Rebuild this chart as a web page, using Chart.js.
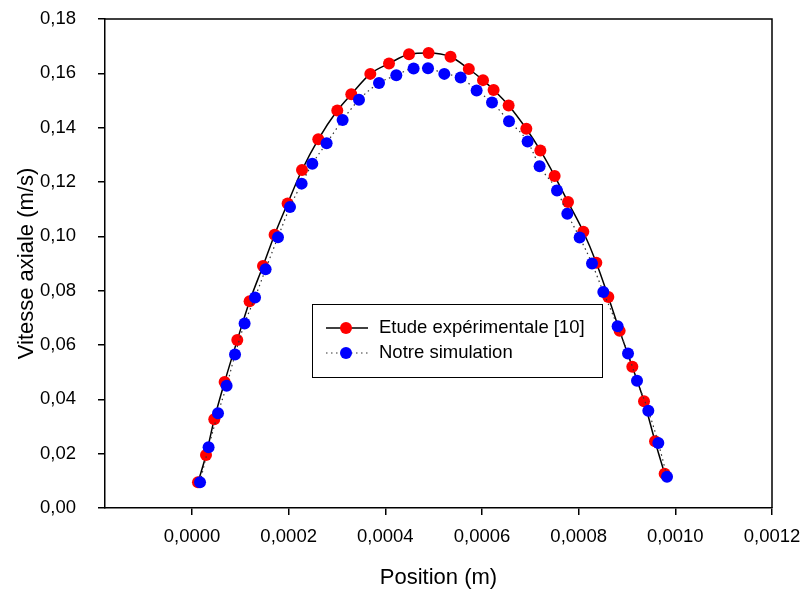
<!DOCTYPE html>
<html><head><meta charset="utf-8">
<script src="https://cdn.jsdelivr.net/npm/chart.js@4/dist/chart.umd.min.js"></script>
<style>html,body{margin:0;padding:0;background:#fff}#wrap{width:803px;height:589px}</style>
</head><body><div id="wrap"><canvas id="c" width="803" height="589"></canvas></div>
<script>
const FONT = "'Liberation Sans', Arial, sans-serif";

const expLabel = 'Etude expérimentale [10]';
const simLabel = 'Notre simulation';

const expX = [0.0000124, 0.0000290, 0.0000461, 0.0000675, 0.0000937, 0.0001192, 0.0001469, 0.0001709, 0.0001978, 0.0002276, 0.0002613, 0.0003006, 0.0003296, 0.0003689, 0.0004076, 0.0004490, 0.0004895, 0.0005349, 0.0005727, 0.0006021, 0.0006240, 0.0006551, 0.0006917, 0.0007207, 0.0007503, 0.0007780, 0.0008096, 0.0008365, 0.0008614, 0.0008848, 0.0009110, 0.0009352, 0.0009580, 0.0009779];
const expY = [0.0095, 0.0195, 0.0327, 0.0464, 0.0618, 0.0761, 0.0891, 0.1006, 0.1121, 0.1244, 0.1357, 0.1463, 0.1523, 0.1598, 0.1636, 0.1670, 0.1675, 0.1661, 0.1616, 0.1575, 0.1539, 0.1482, 0.1396, 0.1316, 0.1222, 0.1126, 0.1017, 0.0903, 0.0777, 0.0652, 0.0520, 0.0393, 0.0246, 0.0126];

const simX = [0.0000166, 0.0000343, 0.0000538, 0.0000716, 0.0000890, 0.0001088, 0.0001304, 0.0001523, 0.0001779, 0.0002028, 0.0002268, 0.0002489, 0.0002785, 0.0003116, 0.0003455, 0.0003869, 0.0004227, 0.0004585, 0.0004883, 0.0005220, 0.0005558, 0.0005889, 0.0006207, 0.0006559, 0.0006944, 0.0007192, 0.0007552, 0.0007765, 0.0008020, 0.0008276, 0.0008510, 0.0008806, 0.0009021, 0.0009207, 0.0009441, 0.0009648, 0.0009828];
const simY = [0.0095, 0.0224, 0.0349, 0.0450, 0.0565, 0.0679, 0.0775, 0.0879, 0.0997, 0.1108, 0.1194, 0.1267, 0.1343, 0.1428, 0.1503, 0.1564, 0.1593, 0.1618, 0.1619, 0.1598, 0.1585, 0.1537, 0.1493, 0.1424, 0.1349, 0.1258, 0.1169, 0.1083, 0.0996, 0.0900, 0.0795, 0.0669, 0.0569, 0.0468, 0.0358, 0.0239, 0.0115];

const xTicks = [0, 0.0002, 0.0004, 0.0006, 0.0008, 0.0010, 0.0012];
const yTicks = [0, 0.02, 0.04, 0.06, 0.08, 0.10, 0.12, 0.14, 0.16, 0.18];

const toPts = (xs, ys) => xs.map((x, i) => ({x: x, y: ys[i]}));

const framePlugin = {
  id: 'frame',
  afterDatasetsDraw(chart) {
    const {ctx, chartArea: a} = chart;
    ctx.save();
    ctx.strokeStyle = '#000';
    ctx.lineWidth = 1.5;
    ctx.beginPath();
    ctx.moveTo(a.left, a.top); ctx.lineTo(a.right, a.top); ctx.lineTo(a.right, a.bottom);
    ctx.stroke();
    ctx.restore();
  },
  afterDraw(chart) {
    const {ctx, chartArea: a} = chart;
    const bx = a.left + 207, by = a.top + 285, bw = 290, bh = 73;
    ctx.save();
    ctx.fillStyle = '#fff';
    ctx.fillRect(bx, by, bw, bh);
    ctx.strokeStyle = '#000';
    ctx.lineWidth = 1;
    ctx.strokeRect(bx + 0.5, by + 0.5, bw, bh);
    const rows = [by + 24, by + 49];
    chart.data.datasets.forEach((ds, i) => {
      const y = rows[i];
      ctx.beginPath();
      ctx.strokeStyle = ds.borderColor;
      ctx.lineWidth = ds.borderWidth;
      ctx.setLineDash(ds.borderDash || []);
      ctx.moveTo(bx + 14, y); ctx.lineTo(bx + 56, y);
      ctx.stroke();
      ctx.setLineDash([]);
      ctx.beginPath();
      ctx.fillStyle = ds.pointBackgroundColor;
      ctx.arc(bx + 34, y, ds.pointRadius, 0, Math.PI * 2);
      ctx.fill();
      ctx.fillStyle = '#000';
      ctx.font = '18.5px ' + FONT;
      ctx.textBaseline = 'middle';
      ctx.textAlign = 'left';
      ctx.fillText(ds.label, bx + 67, y);
    });
    ctx.restore();
  }
};

new Chart(document.getElementById('c'), {
  type: 'scatter',
  data: {
    datasets: [
      {label: expLabel, data: toPts(expX, expY), showLine: true, borderColor: '#000', borderWidth: 1.5,
       cubicInterpolationMode: 'monotone', pointRadius: 6, pointBackgroundColor: '#ff0000', pointBorderColor: '#ff0000', pointBorderWidth: 0, order: 2},
      {label: simLabel, data: toPts(simX, simY), showLine: true, borderColor: '#333', borderWidth: 1.2, borderDash: [1.5, 3.5],
       cubicInterpolationMode: 'monotone', pointRadius: 6, pointBackgroundColor: '#0000ff', pointBorderColor: '#0000ff', pointBorderWidth: 0, order: 1}
    ]
  },
  options: {
    responsive: false,
    animation: false,
    devicePixelRatio: 1,
    layout: {padding: {top: 19, right: 31, left: 0, bottom: 0}},
    plugins: {legend: {display: false}, tooltip: {enabled: false}},
    scales: {
      x: {
        type: 'linear', min: -0.00018, max: 0.0012,
        afterBuildTicks: s => { s.ticks = xTicks.map(v => ({value: v})); },
        afterFit: s => { s.height = 81; s.paddingLeft = 0; s.paddingRight = 0; },
        ticks: {font: {size: 18.5, family: FONT}, color: '#000', padding: 11, maxRotation: 0, autoSkip: false,
                callback: v => v.toFixed(4).replace('.', ',')},
        grid: {display: true, drawOnChartArea: false, drawTicks: true, tickLength: 7, color: '#000', lineWidth: 1.5},
        border: {display: true, color: '#000', width: 1.5},
        title: {display: true, text: 'Position (m)', font: {size: 22, family: FONT, lineHeight: 1}, color: '#000', padding: {top: 0, bottom: 0}}
      },
      y: {
        type: 'linear', min: 0, max: 0.18,
        afterBuildTicks: s => { s.ticks = yTicks.map(v => ({value: v})); },
        afterFit: s => { s.width = 105; s.paddingTop = 0; s.paddingBottom = 0; },
        ticks: {font: {size: 18.5, family: FONT}, color: '#000', padding: 22, autoSkip: false,
                callback: v => v.toFixed(2).replace('.', ',')},
        grid: {display: true, drawOnChartArea: false, drawTicks: true, tickLength: 7, color: '#000', lineWidth: 1.5},
        border: {display: true, color: '#000', width: 1.5},
        title: {display: true, text: 'Vitesse axiale (m/s)', font: {size: 22, family: FONT, lineHeight: 1}, color: '#000', padding: {top: 16, bottom: 0}}
      }
    }
  },
  plugins: [framePlugin]
});
</script>
</body></html>
